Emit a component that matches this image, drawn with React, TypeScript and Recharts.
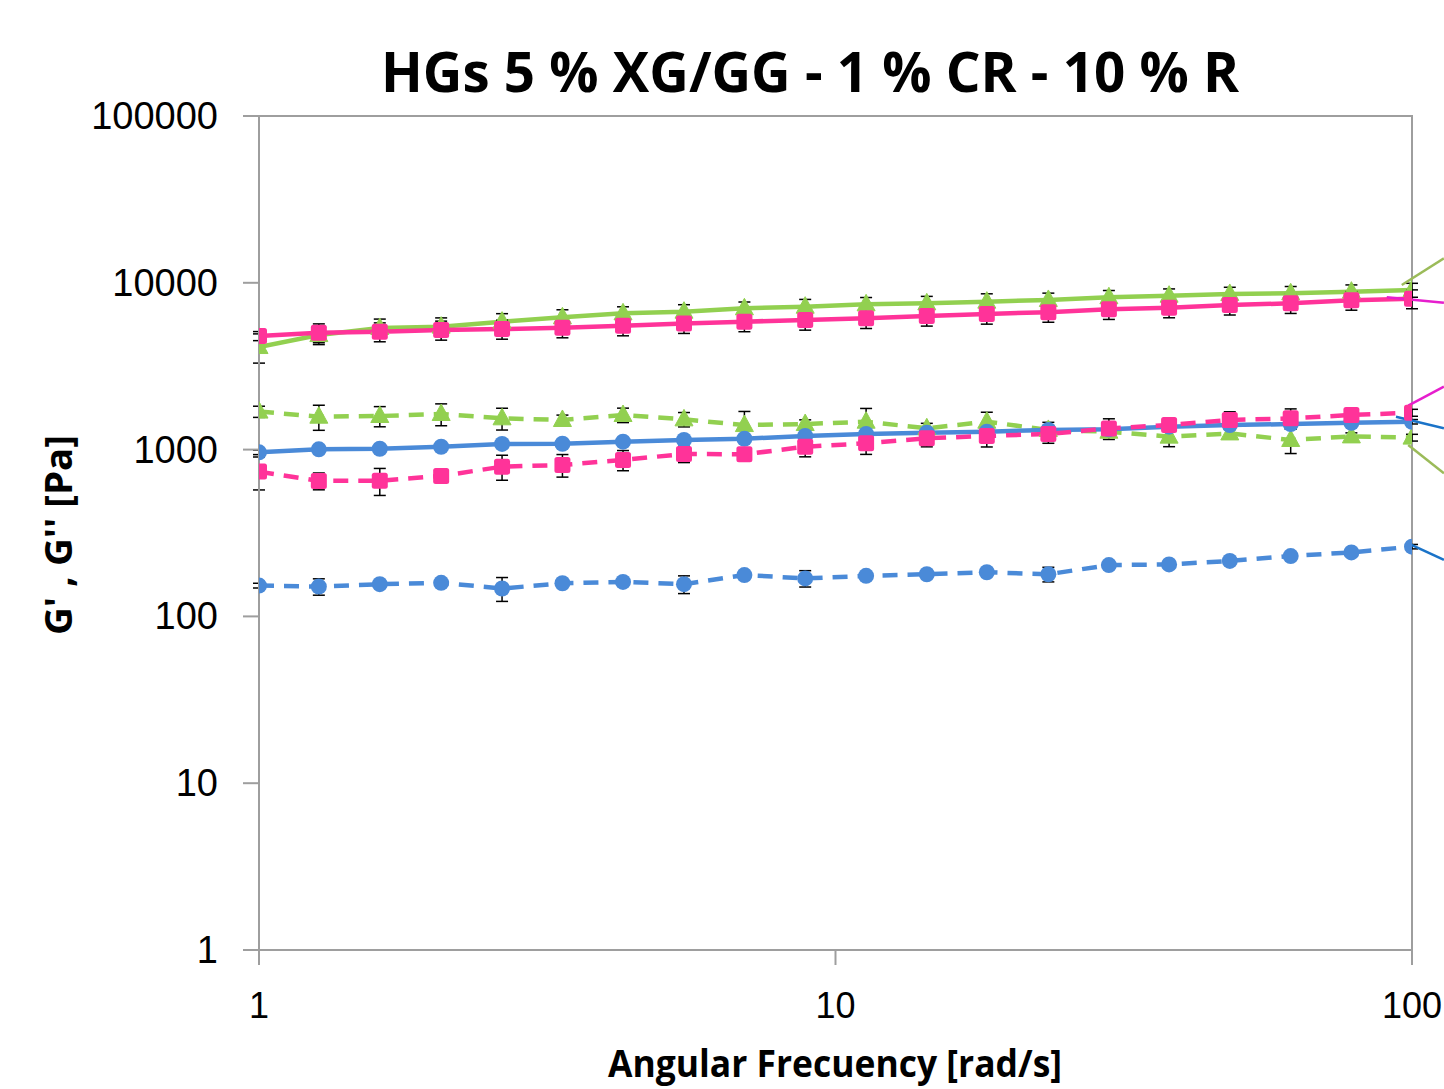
import React from 'react';
import { LineChart, Line, XAxis, YAxis, ErrorBar, ReferenceLine, ReferenceArea, Label } from 'recharts';

// Angular frequency [rad/s]
const frequency = [1, 1.27, 1.62, 2.07, 2.64, 3.36, 4.28, 5.46, 6.95, 8.86, 11.3, 14.4, 18.3, 23.4, 29.8, 37.9, 48.3, 61.6, 78.5, 100];

// Green (triangles)
const greenG1 = [4120, 4860, 5360, 5460, 5850, 6210, 6560, 6710, 7030, 7190, 7430, 7530, 7710, 7890, 8190, 8370, 8570, 8650, 8850, 9060];
const greenG1Err = [820, 600, 700, 700, 680, 680, 620, 680, 640, 760, 730, 760, 880, 780, 800, 820, 830, 850, 860, 870];
const greenG2 = [1690, 1575, 1590, 1635, 1540, 1505, 1612, 1518, 1403, 1423, 1470, 1342, 1470, 1312, 1280, 1196, 1250, 1142, 1200, 1180];
const greenG2Err = [130, 270, 220, 245, 230, 105, 160, 150, 290, 85, 295, 95, 205, 145, 60, 155, 70, 195, 60, 55];

// Blue (circles)
const blueG1 = [963, 1004, 1012, 1040, 1081, 1084, 1115, 1142, 1162, 1207, 1241, 1262, 1280, 1312, 1324, 1372, 1403, 1423, 1449, 1469];
const blueG1Err = [30, 30, 30, 35, 35, 35, 35, 35, 35, 40, 40, 40, 40, 40, 40, 45, 45, 45, 45, 45];
const blueG2 = [153, 151, 156, 159, 147, 158, 161, 156, 177, 169, 175, 179, 184, 179, 203, 205, 215, 230, 242, 262];
const blueG2Err = [5, 17, 5, 5, 24, 5, 5, 19, 6, 19, 6, 6, 6, 18, 6, 6, 7, 7, 7, 8];

// Pink (squares)
const pinkG1 = [4800, 5020, 5090, 5210, 5280, 5380, 5530, 5710, 5850, 5980, 6120, 6320, 6500, 6670, 6930, 7090, 7360, 7530, 7850, 8030];
const pinkG1Err = [300, 650, 660, 680, 690, 700, 720, 740, 760, 780, 800, 820, 850, 870, 900, 920, 950, 980, 1000, 1040];
const pinkG2 = [738, 649, 651, 695, 790, 809, 867, 941, 937, 1040, 1091, 1169, 1207, 1241, 1340, 1403, 1505, 1539, 1612, 1664];
const pinkG2Err = [165, 75, 120, 25, 135, 125, 120, 105, 30, 135, 155, 130, 170, 150, 190, 60, 180, 215, 130, 80];

const xTicks = [1, 10, 100];
const yTicks = [1, 10, 100, 1000, 10000, 100000];

// Leader lines running off to the (cropped) labels on the right
const leaders = [
  { color: '#9BBB59', from: [96, 9700], to: [113.6, 14020] },
  { color: '#E61ECD', from: [90.4, 8185], to: [113.6, 7600] },
  { color: '#E61ECD', from: [98.5, 1834], to: [113.6, 2382] },
  { color: '#1A73C8', from: [93.8, 1575], to: [113.6, 1342] },
  { color: '#9BBB59', from: [98.5, 1066], to: [113.6, 721] },
  { color: '#1A73C8', from: [98.5, 274], to: [113.6, 218] },
];

const GREEN = '#92D050';
const BLUE = '#4A8AD8';
const PINK = '#FF3399';

const data = frequency.map((f, i) => ({
  f,
  gG1: greenG1[i], gG1e: greenG1Err[i],
  gG2: greenG2[i], gG2e: greenG2Err[i],
  bG1: blueG1[i], bG1e: blueG1Err[i],
  bG2: blueG2[i], bG2e: blueG2Err[i],
  pG1: pinkG1[i], pG1e: pinkG1Err[i],
  pG2: pinkG2[i], pG2e: pinkG2Err[i],
}));

const makeDot = (shape: string, color: string, tag: string) => (props: any) => {
  const { cx, cy, index } = props;
  const key = `${tag}-${index}`;
  if (cx == null || cy == null) return <g key={key} />;
  if (shape === 'circle') return <circle key={key} cx={cx} cy={cy} r={8} fill={color} />;
  if (shape === 'square') return <rect key={key} x={cx - 8} y={cy - 8} width={16} height={16} rx={2.5} fill={color} />;
  return <polygon key={key} points={`${cx},${cy - 10} ${cx + 9},${cy + 6.5} ${cx - 9},${cy + 6.5}`} fill={color} strokeLinejoin="round" stroke={color} strokeWidth={1} />;
};

const XTick = (props: any) => {
  const { x, y, payload } = props;
  return (
    <text x={x} y={y} dy={51} textAnchor="middle" fontFamily="Liberation Sans, Arial, sans-serif" fontSize={36} fill="#000">
      {payload.value}
    </text>
  );
};

const YTick = (props: any) => {
  const { x, y, payload } = props;
  return (
    <text x={x} y={y} dy={13} textAnchor="end" fontFamily="Liberation Sans, Arial, sans-serif" fontSize={38} fill="#000">
      {payload.value}
    </text>
  );
};

const series = [
  { key: 'gG1', err: 'gG1e', color: GREEN, shape: 'triangle', dash: undefined },
  { key: 'gG2', err: 'gG2e', color: GREEN, shape: 'triangle', dash: '15 10' },
  { key: 'bG1', err: 'bG1e', color: BLUE, shape: 'circle', dash: undefined },
  { key: 'bG2', err: 'bG2e', color: BLUE, shape: 'circle', dash: '15 10' },
  { key: 'pG1', err: 'pG1e', color: PINK, shape: 'square', dash: undefined },
  { key: 'pG2', err: 'pG2e', color: PINK, shape: 'square', dash: '15 10' },
];

export default function App() {
  return (
    <div style={{ position: 'absolute', left: 0, top: 0, width: 1444, height: 1089, overflow: 'hidden', background: '#fff' }}>
      <svg width={1444} height={110} style={{ position: 'absolute', left: 0, top: 0, zIndex: 2, pointerEvents: 'none' }}>
        <text x={810} y={92} textAnchor="middle" fontFamily="Open Sans, Liberation Sans, sans-serif" fontWeight="bold" fontSize={56}
          textLength={858} lengthAdjust="spacingAndGlyphs" fill="#000">
          HGs 5 % XG/GG - 1 % CR - 10 % R
        </text>
      </svg>
      <LineChart width={1444} height={1089} data={data} margin={{ top: 116, right: 32, bottom: 0, left: 0 }}>
        <ReferenceArea x1={1} x2={100} y1={1} y2={100000} fill="none" stroke="#9E9E9E" strokeWidth={2} ifOverflow="visible" />
        <XAxis dataKey="f" type="number" scale="log" domain={[1, 100]} ticks={xTicks} allowDataOverflow
          height={139} tickSize={15} tickMargin={2} stroke="#9E9E9E" strokeWidth={2} tick={<XTick />} interval={0}>
          <Label content={() => (
            <text x={835} y={1077} textAnchor="middle" fontFamily="Open Sans, Liberation Sans, sans-serif" fontWeight="bold"
              fontSize={38} textLength={454} lengthAdjust="spacingAndGlyphs" fill="#000">Angular Frecuency [rad/s]</text>
          )} />
        </XAxis>
        <YAxis type="number" scale="log" domain={[1, 100000]} ticks={yTicks} allowDataOverflow
          width={259} tickSize={16} tickMargin={25} stroke="#9E9E9E" strokeWidth={2} tick={<YTick />} interval={0}>
          <Label content={() => (
            <text x={72} y={535} transform="rotate(-90 72 535)" textAnchor="middle" fontFamily="Open Sans, Liberation Sans, sans-serif"
              fontWeight="bold" fontSize={38} textLength={200} lengthAdjust="spacingAndGlyphs" fill="#000">G' , G'' [Pa]</text>
          )} />
        </YAxis>
        {series.map((s) => (
          <Line key={s.key} dataKey={s.key} type="linear" stroke={s.color} strokeWidth={4.5} strokeDasharray={s.dash}
            dot={makeDot(s.shape, s.color, s.key)} activeDot={false} isAnimationActive={false}>
            <ErrorBar dataKey={s.err} direction="y" width={6} stroke="#000" strokeWidth={1.5} />
          </Line>
        ))}
        {leaders.map((l, i) => (
          <ReferenceLine key={`lead-${i}`} segment={[{ x: l.from[0], y: l.from[1] }, { x: l.to[0], y: l.to[1] }]}
            stroke={l.color} strokeWidth={2.5} ifOverflow="visible" />
        ))}
      </LineChart>
    </div>
  );
}
